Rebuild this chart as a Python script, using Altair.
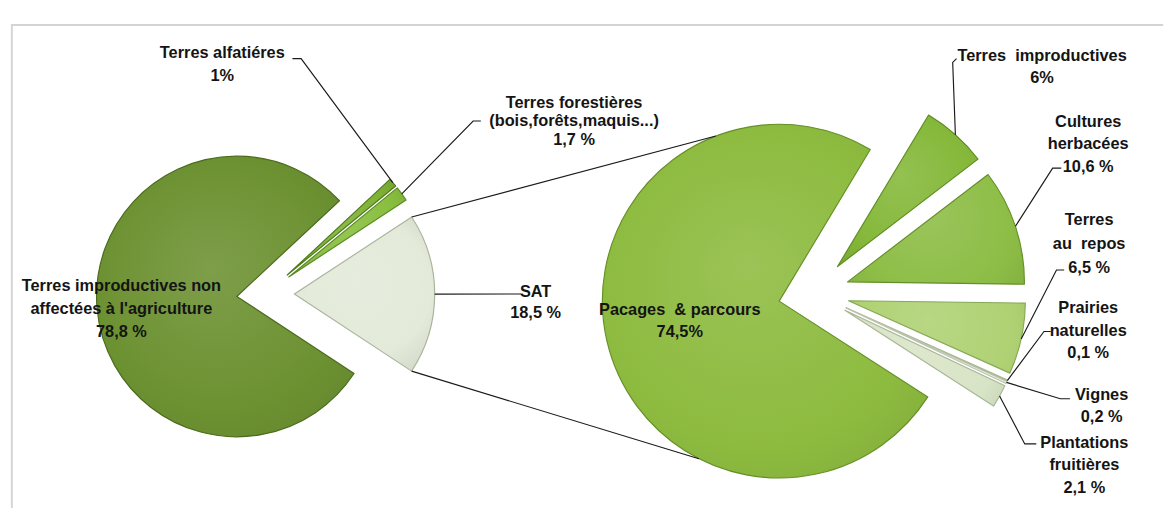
import math
import altair as alt
import pandas as pd

# ---------------- data ----------------
left_names = ["Terres alfatiéres", "Terres forestières", "SAT",
              "Terres improductives non affectées à l'agriculture"]
left_values = [1.0, 1.7, 18.5, 78.8]
left_lines = [["Terres alfatiéres", "1%"],
              ["Terres forestières", "(bois,forêts,maquis...)", "1,7 %"],
              ["SAT", "18,5 %"],
              ["Terres improductives non", "affectées à l'agriculture", "78,8 %"]]

right_names = ["Terres improductives", "Cultures herbacées", "Terres au repos",
               "Prairies naturelles", "Vignes", "Plantations fruitières",
               "Pacages & parcours"]
right_values = [6.0, 10.6, 6.5, 0.1, 0.2, 2.1, 74.5]
right_lines = [["Terres\u00a0 improductives", "6%"],
               ["Cultures", "herbacées", "10,6 %"],
               ["Terres", "au\u00a0 repos", "6,5 %"],
               ["Prairies", "naturelles", "0,1 %"],
               ["Vignes", "0,2 %"],
               ["Plantations", "fruitières", "2,1 %"],
               ["Pacages\u00a0 & parcours", "74,5%"]]

# ---------------- styles / layout ----------------
left_fill = ["#7DB234", "#88BE3E", "#E3EAD9", "#6C9131"]
left_stroke = ["#4F7A1C", "#5A8A22", "#A9B39C", "#4A6A1C"]
right_fill = ["#85B83A", "#8DBD46", "#AFD173", "#CFE2B4", "#EEF3E6", "#D8E4C6", "#8DBB3F"]
right_stroke = ["#5E8C22", "#648F2A", "#86A955", "#A6B98F", "#B9C2AD", "#A9B596", "#658F26"]

OFF = 8  # page margin
LEFT = dict(cx=274 - OFF, cy=295 - OFF, r=146, explode=30, start=47.0)
RIGHT = dict(cx=844.5 - OFF, cy=294 - OFF, r=184, explode=37, start=31.0)

left_anchor = [(229, 44, 24), (595, 96, 19.5), (555, 293, 22), (124, 287, 24)]
right_anchor = [(1082, 48, 22), (1130, 116, 23.5), (1131, 218, 25),
                (1130, 310, 23.5), (1144, 400, 23), (1126, 450, 23.5), (705, 312, 23)]

left_leader = [[(311, 50), (302, 50)], [(490, 115), (498, 115)], [(540, 295)], None]
right_leader = [[(989, 54), (993, 50)], [(1093, 164), (1102, 164)],
                [(1097, 270), (1105, 270)], [(1084, 334), (1091, 334)],
                [(1101, 404), (1111, 404)], [(1064, 451), (1076, 451)], None]

conn_angles = (339.0, 207.0)


def shade(hex_color, f):
    h = hex_color.lstrip("#")
    rgb = [int(h[i:i + 2], 16) for i in (0, 2, 4)]
    if f >= 0:
        rgb = [round(c + (255 - c) * f) for c in rgb]
    else:
        rgb = [round(c * (1 + f)) for c in rgb]
    return "#" + "".join(f"{c:02X}" for c in rgb)


def slices(values, fill, stroke, geo, pie):
    rows = []
    a = geo["start"]
    for i, v in enumerate(values):
        span = v * 3.6
        a0, a1 = a, a + span
        mid = math.radians((a0 + a1) / 2)
        vx = geo["cx"] + geo["explode"] * math.sin(mid)
        vy = geo["cy"] - geo["explode"] * math.cos(mid)
        rows.append(dict(key=f"{pie}{i}", pie=pie, i=i, t0=math.radians(a0), t1=math.radians(a1),
                         a0=a0, a1=a1, mid=mid, vx=vx, vy=vy,
                         fill=fill[i], stroke=stroke[i]))
        a = a1
    return pd.DataFrame(rows)


L = slices(left_values, left_fill, left_stroke, LEFT, "L")
R = slices(right_values, right_fill, right_stroke, RIGHT, "R")


def arc_point(row, r, ang_deg=None):
    ang = row["mid"] if ang_deg is None else math.radians(ang_deg)
    return row["vx"] + r * math.sin(ang), row["vy"] - r * math.cos(ang)


text_rows = []
for lines, anc in [(left_lines, left_anchor), (right_lines, right_anchor)]:
    for lst, (x, y, lh) in zip(lines, anc):
        for k, t in enumerate(lst):
            text_rows.append(dict(x=x - OFF, y=y - OFF + k * lh, t=t))
texts = pd.DataFrame(text_rows)

lead_rows = []
lid = 0
for df, leaders, geo in [(L, left_leader, LEFT), (R, right_leader, RIGHT)]:
    for i, bends in enumerate(leaders):
        if not bends:
            continue
        px, py = arc_point(df.iloc[i], geo["r"])
        pts = [(px, py)] + [(bx - OFF, by - OFF) for bx, by in bends]
        for k, (x, y) in enumerate(pts):
            lead_rows.append(dict(id=lid, k=k, x=x, y=y))
        lid += 1

sat = L.iloc[2]
pac = R.iloc[6]
for ang_sat, ang_pac in [(sat["a0"], conn_angles[0]), (sat["a1"], conn_angles[1])]:
    p1 = arc_point(sat, LEFT["r"], ang_sat)
    p2 = arc_point(pac, RIGHT["r"], ang_pac)
    for k, (x, y) in enumerate([p1, p2]):
        lead_rows.append(dict(id=lid, k=k, x=x, y=y))
    lid += 1
leads = pd.DataFrame(lead_rows)

frame = pd.DataFrame([dict(id=0, k=0, x=10 - OFF, y=520), dict(id=0, k=1, x=10 - OFF, y=15 - OFF),
                      dict(id=0, k=2, x=1200, y=15 - OFF)])

X = lambda f: alt.X(f, type="quantitative", scale=None, axis=None)
Y = lambda f: alt.Y(f, type="quantitative", scale=None, axis=None)


def slice_layers(df, r):
    layers = []
    for _, row in df.iterrows():
        base = row["fill"]
        grad = alt.Gradient(
            gradient="radial", x1=0.45, y1=0.4, r1=0.0, x2=0.5, y2=0.5, r2=0.75,
            stops=[alt.GradientStop(color=shade(base, 0.12), offset=0.0),
                   alt.GradientStop(color=base, offset=0.6),
                   alt.GradientStop(color=shade(base, -0.12), offset=1.0)])
        layers.append(
            alt.Chart(df).transform_filter(alt.datum.key == row["key"]).mark_arc(
                outerRadius=r, strokeWidth=1.2, strokeJoin="round", color=grad,
                stroke=row["stroke"]
            ).encode(
                x=X("vx"), y=Y("vy"),
                theta=alt.Theta("t0:Q", scale=None), theta2="t1:Q",
            )
        )
    return layers


frame_layer = alt.Chart(frame).mark_line(color="#D4D4D4", strokeWidth=2).encode(
    x=X("x"), y=Y("y"), detail="id:N", order="k:Q")

lead_layer = alt.Chart(leads).mark_line(color="#1A1A1A", strokeWidth=1.2).encode(
    x=X("x"), y=Y("y"), detail="id:N", order="k:Q")

text_layer = alt.Chart(texts).mark_text(
    font="Liberation Sans, Arial", fontSize=17,
    fontWeight="bold", color="#141414", align="center", baseline="middle"
).encode(x=X("x"), y=Y("y"), text="t:N")

chart = alt.layer(
    frame_layer,
    *slice_layers(L, LEFT["r"]),
    *slice_layers(R, RIGHT["r"]),
    lead_layer,
    text_layer,
).properties(width=1167, height=500, padding=0).configure_view(stroke=None)

chart.save("out.html", embed_options={"renderer": "svg", "actions": False})
